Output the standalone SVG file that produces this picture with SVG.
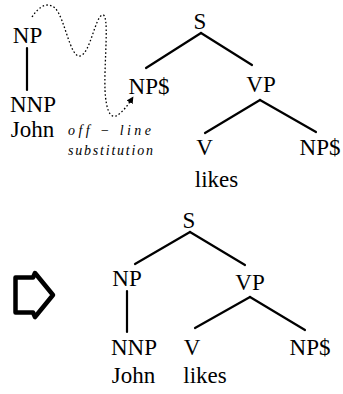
<svg xmlns="http://www.w3.org/2000/svg" width="343" height="394" viewBox="0 0 343 394">
  <style>
    .lbl { font-family: 'Liberation Serif', serif; font-size: 23px; fill: #000; text-anchor: middle; }
    .note { font-family: 'Liberation Serif', serif; font-style: italic; font-size: 14px; fill: #000; }
    .edge { stroke: #000; stroke-width: 2.2; fill: none; stroke-linecap: round; }
    .dotted { stroke: #000; stroke-width: 1.3; fill: none; stroke-dasharray: 1.6 2.2; }
  </style>
  <defs>
    <marker id="head" viewBox="0 0 10 10" refX="9" refY="5" markerWidth="7" markerHeight="7" orient="auto" markerUnits="userSpaceOnUse">
      <path d="M0,0 L10,5 L0,10 Z" fill="#000"/>
    </marker>
  </defs>

  <!-- connectors -->
  <g id="connectors">
    <!-- initial tree for John -->
    <line class="edge" x1="27" y1="48" x2="27" y2="90"/>
    <!-- elementary tree for likes -->
    <line class="edge" x1="201" y1="33" x2="146" y2="68"/>
    <line class="edge" x1="201" y1="33" x2="252" y2="65"/>
    <line class="edge" x1="260" y1="100" x2="205" y2="133"/>
    <line class="edge" x1="260" y1="100" x2="316" y2="132"/>
    <!-- substitution path -->
    <path class="dotted" marker-end="url(#head)" d="M32,17 C40,5 48,2 55,8 C65,18 70,58 80,56 C90,54 95,18 102,15 C110,12 104,60 105,90 C106,110 110,118 116,116 C122,113 128,105 133,97"/>
    <!-- derived tree -->
    <line class="edge" x1="127" y1="291" x2="127" y2="332"/>
    <line class="edge" x1="190" y1="232" x2="135" y2="264"/>
    <line class="edge" x1="190" y1="232" x2="245" y2="265"/>
    <line class="edge" x1="250" y1="297" x2="195" y2="328"/>
    <line class="edge" x1="250" y1="297" x2="305" y2="330"/>
  </g>

  <!-- initial tree -->
  <g id="t1-np"><text class="lbl" x="27.5" y="43">NP</text></g>
  <g id="t1-nnp"><text class="lbl" x="33" y="112">NNP</text></g>
  <g id="t1-john"><text class="lbl" x="32.5" y="137">John</text></g>

  <!-- substitution note -->
  <g id="note">
    <text class="note" x="68" y="135" textLength="83" lengthAdjust="spacing">off − line</text>
    <text class="note" x="68" y="155" textLength="85" lengthAdjust="spacing">substitution</text>
  </g>

  <!-- elementary tree -->
  <g id="t2-s"><text class="lbl" x="200" y="29">S</text></g>
  <g id="t2-np"><text class="lbl" x="149" y="94">NP$</text></g>
  <g id="t2-vp"><text class="lbl" x="261" y="92">VP</text></g>
  <g id="t2-v"><text class="lbl" x="204.5" y="155">V</text></g>
  <g id="t2-np2"><text class="lbl" x="320" y="155">NP$</text></g>
  <g id="t2-likes"><text class="lbl" x="216.5" y="187">likes</text></g>

  <!-- result arrow -->
  <g id="arrow">
    <path d="M15.5,277.5 H33 L35,273 L53,295 L35,317 L33,312.5 H15.5 Z" fill="none" stroke="#000" stroke-width="4.5" stroke-linejoin="round"/>
  </g>

  <!-- derived tree -->
  <g id="t3-s"><text class="lbl" x="189" y="228">S</text></g>
  <g id="t3-np"><text class="lbl" x="127" y="286">NP</text></g>
  <g id="t3-vp"><text class="lbl" x="250" y="290">VP</text></g>
  <g id="t3-nnp"><text class="lbl" x="134" y="355">NNP</text></g>
  <g id="t3-john"><text class="lbl" x="133.5" y="383">John</text></g>
  <g id="t3-v"><text class="lbl" x="192" y="355">V</text></g>
  <g id="t3-np2"><text class="lbl" x="310" y="355">NP$</text></g>
  <g id="t3-likes"><text class="lbl" x="205" y="383">likes</text></g>
</svg>
